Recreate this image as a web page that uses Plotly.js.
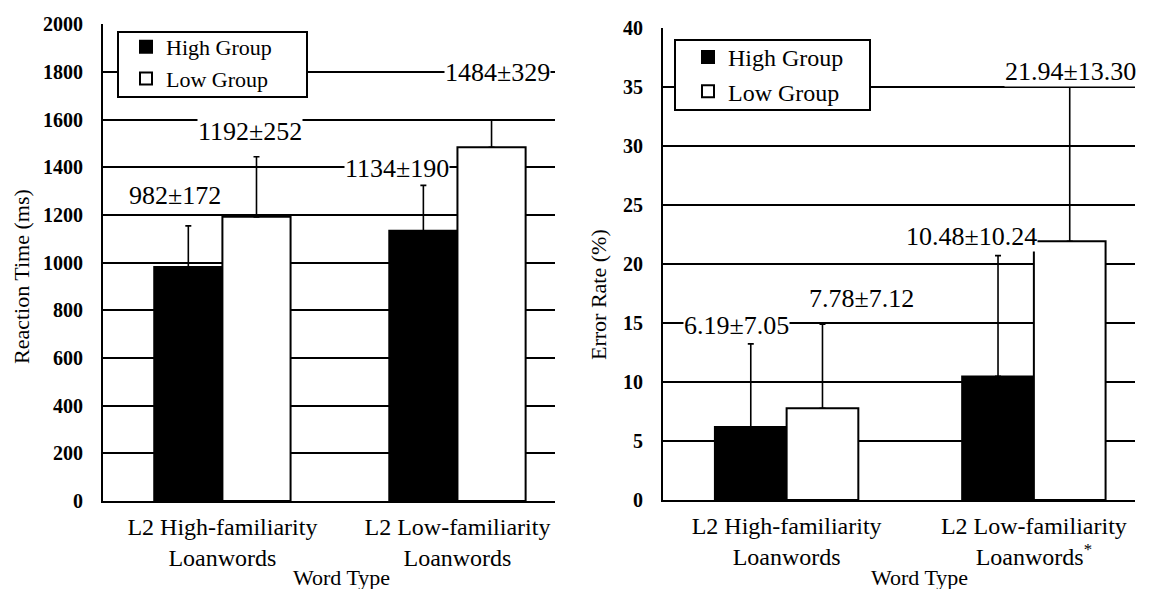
<!DOCTYPE html>
<html>
<head>
<meta charset="utf-8">
<script src="https://cdn.plot.ly/plotly-3.0.1.min.js"></script>
<style>html,body{margin:0;padding:0;background:#fff;}#chart{width:1150px;height:589px;}</style>
</head>
<body>
<div id="chart"></div>
<script>
// ---- data ----
const categories = ["L2 High-familiarity<br>Loanwords", "L2 Low-familiarity<br>Loanwords"];
const categoriesRight = ["L2 High-familiarity<br>Loanwords", "L2 Low-familiarity<br>Loanwords<sup>*</sup>"];
const seriesNames = ["High Group", "Low Group"];

// Reaction time (ms)
const rtHigh = [982, 1134];
const rtLow = [1192, 1484];
const rtHighSD = [172, 190];
const rtLowSD = [252, 329];
// upper whiskers as drawn in the figure
const rtHighErrDrawn = [172, 190];
const rtLowErrDrawn = [252, 115];

// Error rate (%)
const erHigh = [6.19, 10.48];
const erLow = [7.78, 21.94];
const erHighSD = [7.05, 10.24];
const erLowSD = [7.12, 13.30];

const yTitleLeft = "Reaction Time (ms)";
const yTitleRight = "Error Rate (%)";
const xTitle = "Word Type";

// ---- helpers ----
const W = 1150, H = 589;
const px = x => x / W;
const py = y => 1 - y / H;
const FONT = "'Liberation Serif', 'Times New Roman', serif";

function errObj(arr) {
  return {type: "data", symmetric: false, array: arr, arrayminus: arr.map(() => 0),
          color: "#000", thickness: 1.6, width: 3};
}

const traces = [
  {type: "bar", name: seriesNames[0], x: categories, y: rtHigh, xaxis: "x", yaxis: "y",
   marker: {color: "#000", line: {color: "#000", width: 2}}, error_y: errObj(rtHighErrDrawn), legend: "legend"},
  {type: "bar", name: seriesNames[1], x: categories, y: rtLow, xaxis: "x", yaxis: "y",
   marker: {color: "#fff", line: {color: "#000", width: 2}}, error_y: errObj(rtLowErrDrawn), legend: "legend"},
  {type: "bar", name: seriesNames[0], x: categoriesRight, y: erHigh, xaxis: "x2", yaxis: "y2",
   marker: {color: "#000", line: {color: "#000", width: 2}}, error_y: errObj(erHighSD), legend: "legend2"},
  {type: "bar", name: seriesNames[1], x: categoriesRight, y: erLow, xaxis: "x2", yaxis: "y2",
   marker: {color: "#fff", line: {color: "#000", width: 2}}, error_y: errObj(erLowSD), legend: "legend2"}
];

const lbl = (m, s, d) => (d ? m.toFixed(d) : m) + "±" + (d ? s.toFixed(d) : s);
const annFont = {family: FONT, size: 26, color: "#000"};
function ann(text, x, y, extra) {
  return Object.assign({text: text, xref: "paper", yref: "paper", x: px(x), y: py(y),
    xanchor: "center", yanchor: "middle", showarrow: false, font: annFont,
    bgcolor: "#fff", borderpad: 0}, extra || {});
}
const titleFont = {family: FONT, size: 22, color: "#000"};

const annotations = [
  ann(lbl(rtHigh[0], rtHighSD[0]), 175, 195),
  ann(lbl(rtLow[0], rtLowSD[0]), 250, 131),
  ann(lbl(rtHigh[1], rtHighSD[1]), 397, 168),
  ann(lbl(rtLow[1], rtLowSD[1]), 497, 72),
  ann(lbl(erHigh[0], erHighSD[0], 2), 736, 325),
  ann(lbl(erLow[0], erLowSD[0], 2), 861, 298),
  ann(lbl(erHigh[1], erHighSD[1], 2), 971, 236),
  ann(lbl(erLow[1], erLowSD[1], 2), 1070, 71),
  ann(yTitleLeft, 21, 277, {textangle: -90, font: titleFont, bgcolor: "rgba(0,0,0,0)"}),
  ann(yTitleRight, 598, 295, {textangle: -90, font: titleFont, bgcolor: "rgba(0,0,0,0)"}),
  ann(xTitle, 341, 577, {font: titleFont, bgcolor: "rgba(0,0,0,0)"}),
  ann(xTitle, 919, 577, {font: titleFont, bgcolor: "rgba(0,0,0,0)"})
];

const shapes = [
  {type: "rect", xref: "paper", yref: "paper", x0: px(118), x1: px(307), y0: py(97), y1: py(32),
   fillcolor: "#fff", line: {color: "#000", width: 2}, layer: "above"},
  {type: "rect", xref: "paper", yref: "paper", x0: px(675), x1: px(870), y0: py(110), y1: py(40),
   fillcolor: "#fff", line: {color: "#000", width: 2}, layer: "above"}
];

const xBase = {type: "category", showline: true, linecolor: "#000", linewidth: 2, showgrid: false,
  zeroline: false, ticks: "", ticklabelstandoff: 3, tickfont: {family: FONT, size: 24, color: "#000"}, fixedrange: true};
const yBase = {showline: true, linecolor: "#000", linewidth: 2, showgrid: true, gridcolor: "#000",
  gridwidth: 2, zeroline: false, ticks: "", ticklabelstandoff: 14,
  tickfont: {family: FONT, size: 20, color: "#000", weight: "bold"}, fixedrange: true};

const legendBase = {bgcolor: "rgba(0,0,0,0)", borderwidth: 0, color: "#000",
  xanchor: "left", yanchor: "top", orientation: "v", itemclick: false, itemdoubleclick: false};

const layout = {
  width: W, height: H, margin: {l: 0, r: 0, t: 0, b: 0}, paper_bgcolor: "#fff", plot_bgcolor: "#fff",
  barmode: "group", bargap: 0.42, bargroupgap: 0, showlegend: true,
  font: {family: FONT, color: "#000"},
  xaxis: Object.assign({}, xBase, {domain: [px(103), px(555)], range: [-0.508, 1.415], anchor: "y"}),
  yaxis: Object.assign({}, yBase, {domain: [py(501), py(24)], range: [0, 2001], dtick: 200, tick0: 0, anchor: "x"}),
  xaxis2: Object.assign({}, xBase, {domain: [px(663), px(1135)], range: [-0.5, 1.409], anchor: "y2"}),
  yaxis2: Object.assign({}, yBase, {domain: [py(500), py(28)], range: [0, 40.02], dtick: 5, tick0: 0, anchor: "x2"}),
  legend: Object.assign({}, legendBase, {x: px(126), y: py(26), font: {family: FONT, size: 22, color: "#000"}}),
  legend2: Object.assign({}, legendBase, {x: px(688), y: py(35), font: {family: FONT, size: 24, color: "#000"}}),
  annotations: annotations,
  shapes: shapes
};

Plotly.newPlot("chart", traces, layout, {displayModeBar: false, staticPlot: true});
</script>
</body>
</html>
